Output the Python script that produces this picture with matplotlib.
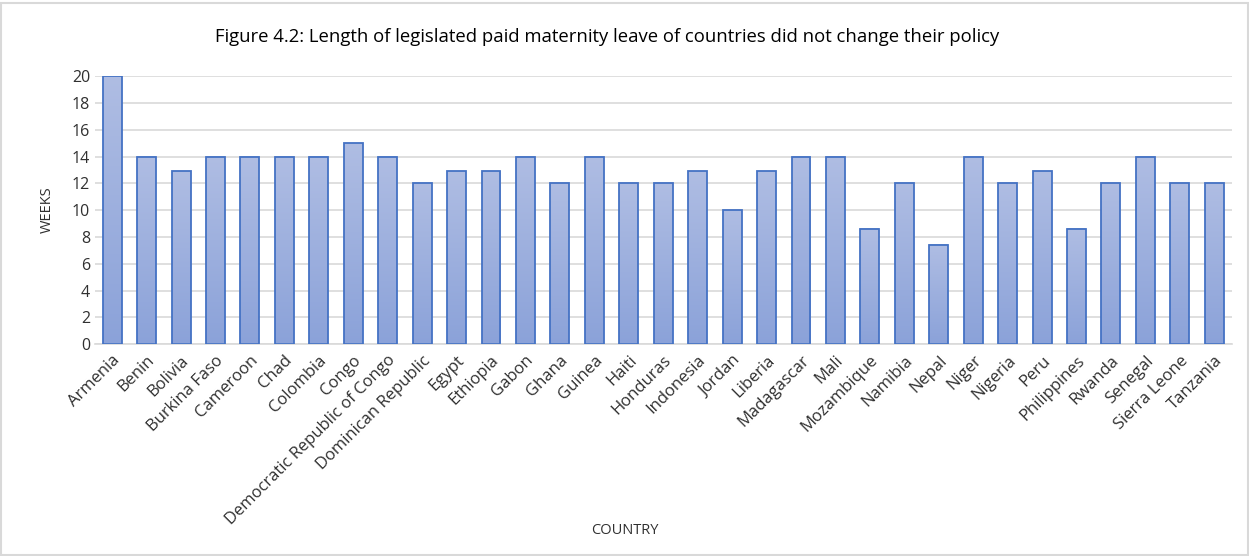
import numpy as np
import matplotlib.pyplot as plt
from matplotlib.colors import LinearSegmentedColormap

# donnees
pays = ['Armenia', 'Benin', 'Bolivia', 'Burkina Faso', 'Cameroon', 'Chad', 'Colombia',
        'Congo', 'Democratic Republic of Congo', 'Dominican Republic', 'Egypt', 'Ethiopia',
        'Gabon', 'Ghana', 'Guinea', 'Haiti', 'Honduras', 'Indonesia', 'Jordan', 'Liberia',
        'Madagascar', 'Mali', 'Mozambique', 'Namibia', 'Nepal', 'Niger', 'Nigeria', 'Peru',
        'Philippines', 'Rwanda', 'Senegal', 'Sierra Leone', 'Tanzania']
semaines = [20, 14, 12.9, 14, 14, 14, 14, 15, 14, 12, 12.9, 12.9, 14, 12, 14, 12, 12, 12.9,
            10, 12.9, 14, 14, 8.6, 12, 7.4, 14, 12, 12.9, 8.6, 12, 14, 12, 12]

plt.rcParams['font.family'] = ['Open Sans', 'DejaVu Sans']

fig = plt.figure(figsize=(12.49, 5.56), dpi=100)
ax = fig.add_axes([0.076, 0.381, 0.910, 0.482])

# degrade de couleur pour les barres
cmap = LinearSegmentedColormap.from_list('grad', ['#8ba2d9', '#afbde3'])
grad = np.linspace(0, 1, 256).reshape(-1, 1)
largeur = 0.55
x = np.arange(len(pays))
barres = ax.bar(x, semaines, width=largeur, facecolor='none', edgecolor='#4472c4',
                linewidth=1.3, zorder=3)
for b in barres:
    x0 = b.get_x()
    h = b.get_height()
    ax.imshow(grad, cmap=cmap, origin='lower', aspect='auto',
              extent=[x0, x0 + largeur, 0, h], zorder=2)

ax.set_xlim(-0.5, len(pays) - 0.5)
ax.set_ylim(0, 20)
ax.set_yticks(np.arange(0, 21, 2))
ax.yaxis.grid(True, color='#d9d9d9', linewidth=1.2, zorder=0)
ax.set_axisbelow(True)
for s in ['top', 'right', 'left']:
    ax.spines[s].set_visible(False)
ax.spines['bottom'].set_color('#d9d9d9')
ax.spines['bottom'].set_linewidth(1.2)
ax.tick_params(length=0, labelsize=11.5, colors='#303030')
ax.set_xticks(x)
ax.set_xticklabels(pays, rotation=45, ha='right', rotation_mode='anchor', fontsize=12)
ax.tick_params(axis='x', pad=6)

ax.set_ylabel('WEEKS', fontsize=10.5, color='#303030', labelpad=12)
fig.text(0.5, 0.04, 'COUNTRY', ha='center', fontsize=10.5, color='#303030')
fig.text(0.486, 0.925, 'Figure 4.2: Length of legislated paid maternity leave of countries did not change their policy',
         ha='center', fontsize=13.3, color='black')

# cadre exterieur
fig.patches.append(plt.Rectangle((0.001, 0.001), 0.998, 0.994, transform=fig.transFigure,
                                 fill=False, edgecolor='#d9d9d9', linewidth=1.5))

plt.savefig('out.png', dpi=100)
